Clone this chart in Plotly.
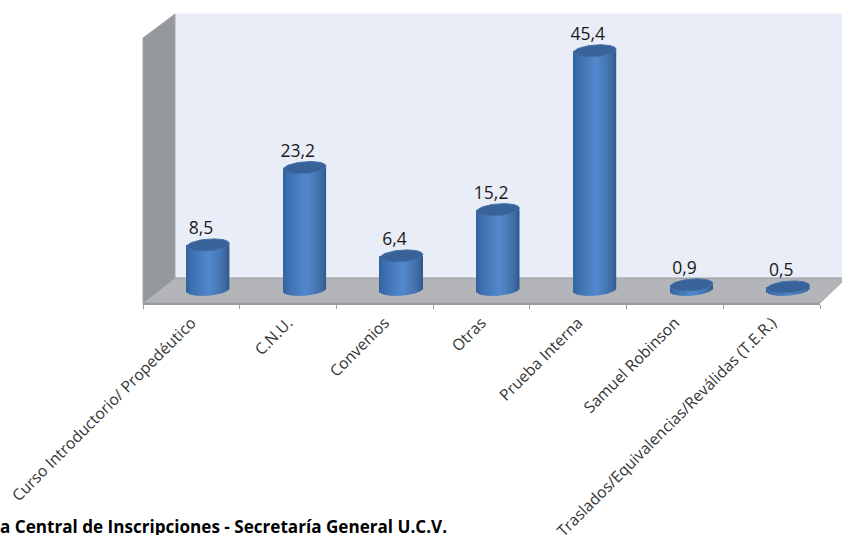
import numpy as np
import plotly.graph_objects as go

categories = ["Curso Introductorio/ Propedéutico", "C.N.U.", "Convenios", "Otras",
              "Prueba Interna", "Samuel Robinson", "Traslados/Equivalencias/Reválidas (T.E.R.)"]
values = [8.5, 23.2, 6.4, 15.2, 45.4, 0.9, 0.5]
value_labels = ["8,5", "23,2", "6,4", "15,2", "45,4", "0,9", "0,5"]
source_text = "a Central de Inscripciones - Secretaría General U.C.V."

W, H = 842, 535
PX_X, PX_Y = 96.7, 5.26       # pixels per category, pixels per value unit
X0, Y0 = 208.0, 289.7         # pixel position of first bar centre / of value 0
HALF_W = 21.3 / PX_X
HALF_H = 5.9 / PX_Y
TILT = 1.6 / PX_Y
FONT = "Open Sans"


def mix(a, b, t):
    return "rgb(%d,%d,%d)" % tuple(round(a[k] + (b[k] - a[k]) * t) for k in range(3))


EDGE_L, MID, EDGE_R = (48, 96, 156), (82, 136, 204), (44, 84, 132)


def shade(u):
    c = 0.1
    if u < c:
        t = ((u + 1) / (1 + c)) ** 0.7
        return mix(EDGE_L, MID, t)
    t = ((1 - u) / (1 - c)) ** 0.55
    return mix(EDGE_R, MID, t)


def paper(points):
    return "M " + " L ".join(f"{x / W:.5f},{1 - y / H:.5f}" for x, y in points) + " Z"


fig = go.Figure()

# Cylinder bodies, built as thin bars across each cylinder
N = 30
xs_base = np.arange(len(values))
for k in range(N):
    u = -1 + (2 * k + 1) / N
    low = -HALF_H * np.sqrt(1 - u * u) + TILT * u
    fig.add_bar(
        x=xs_base + u * HALF_W,
        y=[v - low for v in values],
        base=low,
        width=2 * HALF_W / N * 1.15,
        marker=dict(color=shade(u), line_width=0),
        hoverinfo="skip", showlegend=False,
    )

# Cylinder tops
t = np.linspace(0, 2 * np.pi, 73)
ex, ey = [], []
for i, v in enumerate(values):
    ex += list(i + HALF_W * np.cos(t)) + [None]
    ey += list(v + HALF_H * np.sin(t) + TILT * np.cos(t)) + [None]
fig.add_scatter(x=ex, y=ey, mode="lines", fill="toself", fillcolor="#37639a",
                line=dict(color="#4672a8", width=1), hoverinfo="skip", showlegend=False)

# Value labels
fig.add_scatter(x=[i - 0.072 for i in range(len(values))], y=[v + 2.9 for v in values],
                mode="text", text=value_labels, textposition="middle center",
                textfont=dict(family=FONT, size=17.5, color="#1a1a1a"),
                hoverinfo="skip", showlegend=False)

# Category axis along the front edge of the floor
fig.add_scatter(x=categories, y=[None] * len(categories), xaxis="x2", yaxis="y",
                mode="markers", marker_opacity=0, hoverinfo="skip", showlegend=False)

walls = [
    ([(175, 14), (842, 14), (842, 278), (175, 278)], "#e9edf7", "#e9edf7"),
    ([(143, 38), (175, 14), (175, 278), (143, 303)], "#95989b", "#a4a7aa"),
    ([(143, 303), (175, 278), (846, 278), (820, 303)], "#b3b5b9", "#9a9da0"),
]
shapes = [dict(type="path", xref="paper", yref="paper", path=paper(p), fillcolor=f,
               line=dict(color=c, width=1), layer="below") for p, f, c in walls]

fig.update_layout(
    width=W, height=H, margin=dict(l=0, r=0, t=0, b=0, pad=0, autoexpand=False),
    paper_bgcolor="white", plot_bgcolor="rgba(0,0,0,0)",
    barmode="overlay", showlegend=False, shapes=shapes,
    font=dict(family=FONT, color="#222222"),
    xaxis=dict(domain=[0, 1], range=[-X0 / PX_X, (W - X0) / PX_X], visible=False),
    yaxis=dict(domain=[0, 1], range=[(Y0 - H) / PX_Y, Y0 / PX_Y], visible=False),
    xaxis2=dict(
        domain=[143 / W, 820 / W], anchor="free", position=1 - 303.5 / H,
        type="category", categoryorder="array", categoryarray=categories,
        range=[-0.5, 6.5],
        tickmode="array", tickvals=categories, ticktext=categories,
        tickson="boundaries", ticks="outside", ticklen=4, tickcolor="#9a9da0", tickwidth=1,
        showline=True, linecolor="#9a9da0", linewidth=2, showgrid=False, zeroline=False,
        tickangle=-45, tickfont=dict(family=FONT, size=15.7, color="#333333"),
        ticklabelstandoff=3, automargin=False,
    ),
    annotations=[dict(x=449 / W, y=1 - 526.5 / H, xref="paper", yref="paper", xanchor="right",
                      yanchor="middle", text=f"<b>{source_text}</b>", showarrow=False,
                      font=dict(family=FONT, size=17.1, color="black"))],
)

fig.write_html("out.html", config=dict(displayModeBar=False),
               post_script="document.body.style.margin='0';document.body.style.overflow='hidden';")
